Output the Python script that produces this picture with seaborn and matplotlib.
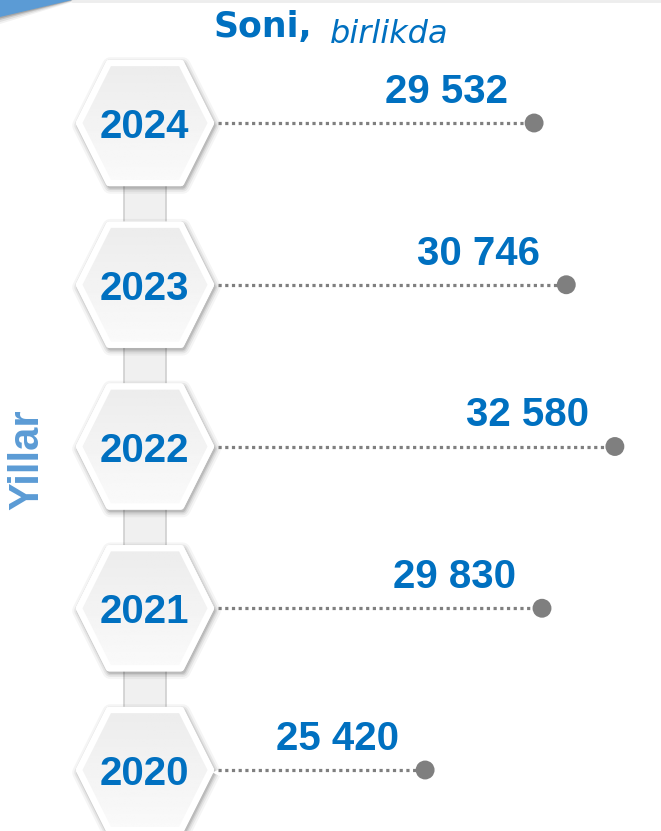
import numpy as np
import pandas as pd
import matplotlib
matplotlib.use("Agg")
import matplotlib.pyplot as plt
from matplotlib.patches import Polygon, Rectangle
import seaborn as sns

# ----------------------------
# data
# ----------------------------
years = ["2024", "2023", "2022", "2021", "2020"]
values = [29532, 30746, 32580, 29830, 25420]
value_labels = ["29 532", "30 746", "32 580", "29 830", "25 420"]
title_main = "Soni,"
title_unit = "birlikda"
axis_label = "Yillar"

# ----------------------------
# style / layout
# ----------------------------
BLUE = "#0070C0"
LIGHT_BLUE = "#5B9BD5"
GRAY = "#7F7F7F"

W, H = 661, 831
ROW_Y0, ROW_DY = 123, 161.75     # pixel rows of the hexagons
HEX_X = 145
LINE_START_PX = 218
XMIN, XMAX = 9380, 34320         # value scale across the figure width

sns.set_theme(style="white")
plt.rcParams["font.family"] = ["Liberation Sans", "DejaVu Sans"]

df = pd.DataFrame({"year": years, "value": values, "label": value_labels})
df["y"] = ROW_Y0 + ROW_DY * np.arange(len(df))

fig = plt.figure(figsize=(W / 100, H / 100), dpi=100)
bg = fig.add_axes([0, 0, 1, 1])
bg.axis("off")

# top-left blue corner
for off, a in [(7, 0.05), (5, 0.08), (3, 0.12), (1.5, 0.15)]:
    bg.add_patch(Polygon([(0, 0), (72 + off, 0), (0, 17 + off)], closed=True,
                         facecolor="black", edgecolor="none", alpha=a, zorder=1))
bg.add_patch(Polygon([(0, 0), (72, 0), (0, 17)], closed=True,
                     facecolor=LIGHT_BLUE, edgecolor="none", zorder=2))
bg.plot([72, W], [1, 1], color="#EDEDED", lw=2, zorder=1)

# connectors between hexagons
for y0, y1 in zip(df["y"].iloc[:-1], df["y"].iloc[1:]):
    bg.add_patch(Rectangle((HEX_X - 21, y0), 42, y1 - y0, facecolor="#F0F0F0",
                           edgecolor="#CFCFCF", lw=1.2, zorder=1))

# hexagons
hex_dx = np.array([66, 36, -36, -66, -36, 36])
hex_dy = np.array([0, -60, -60, 0, 60, 60])
grad = np.linspace(0.925, 0.98, 64).reshape(-1, 1)
for y in df["y"]:
    pts = np.column_stack([HEX_X + hex_dx, y + hex_dy])
    for lw, a in [(12, 0.04), (9, 0.06), (6.5, 0.08), (4.5, 0.11)]:
        bg.add_patch(Polygon(pts + [1.5, 2.5], closed=True, facecolor="none",
                             edgecolor="black", lw=lw, alpha=a,
                             joinstyle="round", zorder=2))
    hexp = Polygon(pts, closed=True, facecolor="#F2F2F2", edgecolor="white",
                   lw=4.5, joinstyle="round", zorder=3)
    bg.add_patch(hexp)
    im = bg.imshow(grad, cmap="gray", vmin=0, vmax=1, aspect="auto",
                   extent=(HEX_X - 66, HEX_X + 66, y + 60, y - 60), zorder=3.5)
    im.set_clip_path(hexp)
    bg.add_patch(Polygon(pts, closed=True, facecolor="none", edgecolor="white",
                         lw=4.5, joinstyle="round", zorder=4))

for yr, y in zip(df["year"], df["y"]):
    bg.text(HEX_X - 1, y + 15, yr, ha="center", va="baseline", fontsize=29,
            fontweight="bold", color=BLUE, zorder=10)

bg.set_xlim(0, W)
bg.set_ylim(H, 0)

# title and axis label
bg.text(213, 37, title_main, ha="left", va="baseline", fontsize=25,
        fontweight="bold", color=BLUE, family="DejaVu Sans")
bg.text(330, 43, title_unit, ha="left", va="baseline", fontsize=23,
        style="italic", color=BLUE, family="DejaVu Sans")
bg.text(27, 460, axis_label, rotation=90, ha="center", va="center",
        fontsize=30, fontweight="bold", color=LIGHT_BLUE)

# ----------------------------
# value lines and dots
# ----------------------------
ax = fig.add_axes([0, 0, 1, 1])
ax.patch.set_alpha(0)
start = XMIN + LINE_START_PX / W * (XMAX - XMIN)
ax.hlines(df["y"], start, df["value"], colors=GRAY, lw=2.3,
          linestyles=(0, (1, 1.1)), zorder=4)
sns.scatterplot(data=df, x="value", y="y", ax=ax, s=185, color=GRAY,
                edgecolor="none", legend=False, zorder=5)
for v, y, lbl in zip(df["value"], df["y"], df["label"]):
    ax.annotate(lbl, (v, y), xytext=(-26, 20), textcoords="offset pixels",
                ha="right", va="baseline", fontsize=29, fontweight="bold",
                color=BLUE)
ax.set_xlim(XMIN, XMAX)
ax.set_ylim(H, 0)
ax.axis("off")

fig.savefig("out.png", dpi=100)
